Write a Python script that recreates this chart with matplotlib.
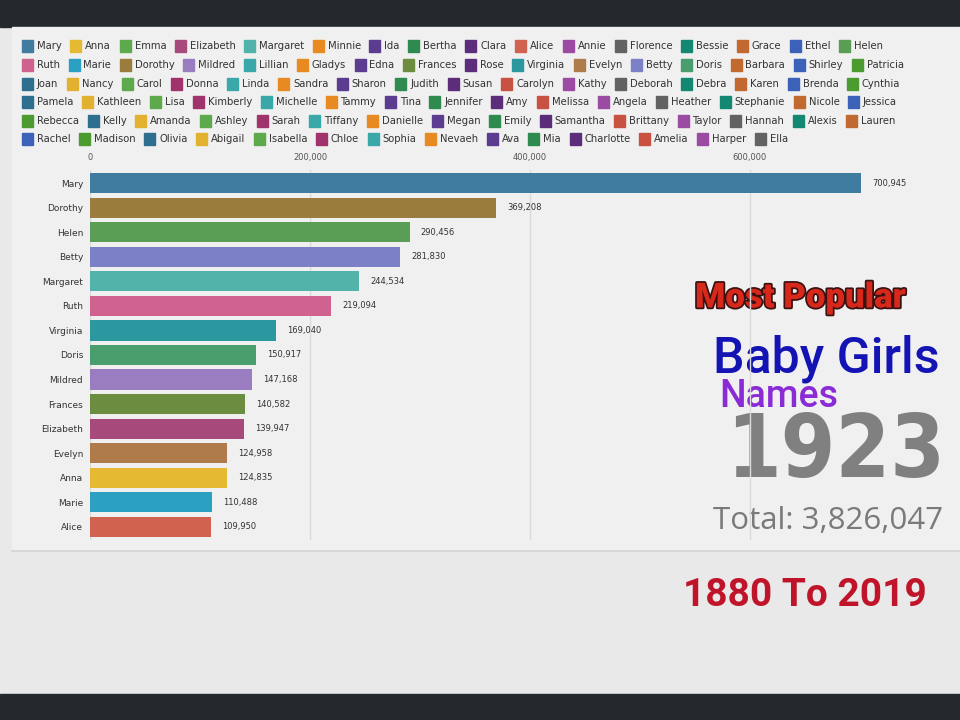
import matplotlib
matplotlib.use("Agg")
import matplotlib.pyplot as plt
import matplotlib.patheffects as pe
from matplotlib.patches import Rectangle
from matplotlib.lines import Line2D
import numpy as np

# Bar data (1923 frame)
names = ['Mary', 'Dorothy', 'Helen', 'Betty', 'Margaret', 'Ruth', 'Virginia', 'Doris',
         'Mildred', 'Frances', 'Elizabeth', 'Evelyn', 'Anna', 'Marie', 'Alice']
values = [700945, 369208, 290456, 281830, 244534, 219094, 169040, 150917,
          147168, 140582, 139947, 124958, 124835, 110488, 109950]
bar_colors = ['#3f7c9f', '#9a7d3c', '#5a9e55', '#7c80c6', '#52b3ab', '#cf628e', '#2b98a0', '#4a9d6c',
              '#9a7cc0', '#6c8d40', '#a8497b', '#b07b4a', '#e6b932', '#2ba0c2', '#d0624f']
ticks = [0, 200000, 400000, 600000]

year = '1923'
total = 'Total: 3,826,047'

# Legend rows
legend_rows = [
    ['Mary', 'Anna', 'Emma', 'Elizabeth', 'Margaret', 'Minnie', 'Ida', 'Bertha', 'Clara', 'Alice',
     'Annie', 'Florence', 'Bessie', 'Grace', 'Ethel', 'Helen'],
    ['Ruth', 'Marie', 'Dorothy', 'Mildred', 'Lillian', 'Gladys', 'Edna', 'Frances', 'Rose', 'Virginia',
     'Evelyn', 'Betty', 'Doris', 'Barbara', 'Shirley', 'Patricia'],
    ['Joan', 'Nancy', 'Carol', 'Donna', 'Linda', 'Sandra', 'Sharon', 'Judith', 'Susan', 'Carolyn',
     'Kathy', 'Deborah', 'Debra', 'Karen', 'Brenda', 'Cynthia'],
    ['Pamela', 'Kathleen', 'Lisa', 'Kimberly', 'Michelle', 'Tammy', 'Tina', 'Jennifer', 'Amy',
     'Melissa', 'Angela', 'Heather', 'Stephanie', 'Nicole', 'Jessica'],
    ['Rebecca', 'Kelly', 'Amanda', 'Ashley', 'Sarah', 'Tiffany', 'Danielle', 'Megan', 'Emily',
     'Samantha', 'Brittany', 'Taylor', 'Hannah', 'Alexis', 'Lauren'],
    ['Rachel', 'Madison', 'Olivia', 'Abigail', 'Isabella', 'Chloe', 'Sophia', 'Nevaeh', 'Ava', 'Mia',
     'Charlotte', 'Amelia', 'Harper', 'Ella'],
]
palette = ['#2e6f8f', '#e2b130', '#5caa4c', '#a0336c', '#3aa8a8', '#e88a22', '#5a3d91', '#2f8a4f',
           '#5b2d7b', '#c95141', '#9b4ba1', '#626262', '#128871', '#c1692f', '#3b61b8', '#4b9b31']
name_color = dict(zip(names, bar_colors))

W, H = 960, 720
fig = plt.figure(figsize=(9.6, 7.2), dpi=100, facecolor='#e9e9e9')

def fx(px):
    return px / W

def fy(py):
    return 1 - py / H

# frame: dark bars top/bottom, light panel
fig.patches.append(Rectangle((0, fy(27)), 1, 27 / H, transform=fig.transFigure, color='#25282c', zorder=0))
fig.patches.append(Rectangle((0, 0), 1, 26 / H, transform=fig.transFigure, color='#25282c', zorder=0))
fig.patches.append(Rectangle((fx(12), fy(550)), 1, (550 - 27) / H, transform=fig.transFigure,
                             color='#f0f0f0', zorder=0))
fig.lines.append(Line2D([fx(12), 1], [fy(551), fy(551)], transform=fig.transFigure,
                        color='#d4d4d4', lw=1.2))

# legend
renderer = fig.canvas.get_renderer()
row_y = [46, 65, 84, 102, 121, 139]
k = 0
for r, row in enumerate(legend_rows):
    x = 22
    for nm in row:
        col = name_color.get(nm, palette[k % len(palette)])
        k += 1
        fig.patches.append(Rectangle((fx(x), fy(row_y[r] + 6)), 11 / W, 12 / H,
                                     transform=fig.transFigure, color=col, zorder=2))
        t = fig.text(fx(x + 15), fy(row_y[r]), nm, fontsize=7.2, color='#333333',
                     va='center', ha='left')
        w = t.get_window_extent(renderer).width
        x += 15 + w + 8.5

# bar chart
ax = fig.add_axes([fx(90), fy(540), fx(858), (540 - 170) / H])
ax.set_zorder(5)
ax.set_facecolor('none')
y = np.arange(len(names))
ax.barh(y, values, height=0.82, color=bar_colors, zorder=2)
ax.set_ylim(14.53, -0.53)
ax.set_xlim(0, 780000)
ax.xaxis.tick_top()
ax.set_xticks(ticks)
ax.set_xticklabels([f'{t:,}' for t in ticks], fontsize=6, color='#555555')
ax.tick_params(axis='x', length=0, pad=6)
ax.set_yticks(y)
ax.set_yticklabels(names, fontsize=6.5, color='#333333')
ax.tick_params(axis='y', length=0, pad=5)
ax.grid(axis='x', color='#dadada', lw=1, zorder=0)
for s in ax.spines.values():
    s.set_visible(False)
for i, v in enumerate(values):
    ax.annotate(f'{v:,}', (v, i), xytext=(8, 0), textcoords='offset points',
                va='center', ha='left', fontsize=6, color='#333333')

# titles on the right
fig.text(fx(695), fy(298), 'Most Popular', fontsize=25, fontweight='heavy', color='#d8281c',
         family=['Roboto', 'DejaVu Sans'], va='center', ha='left',
         path_effects=[pe.withStroke(linewidth=2.5, foreground='#3a1212')])
fig.text(fx(713), fy(359), 'Baby Girls', fontsize=36, fontweight='medium', color='#1414b4',
         family=['Roboto', 'DejaVu Sans'], va='center', ha='left')
fig.text(fx(719), fy(396), 'Names', fontsize=27, fontweight='medium', color='#8a2bd6',
         family=['Roboto', 'DejaVu Sans'], va='center', ha='left')
fig.text(fx(726), fy(453), year, fontsize=63, fontweight='bold', stretch='condensed', color='#808080',
         family=['DejaVu Sans'], va='center', ha='left')
fig.text(fx(713), fy(521), total, fontsize=22.5, color='#7a7a7a',
         family=['Open Sans', 'DejaVu Sans'], va='center', ha='left')
fig.text(fx(683), fy(595), '1880 To 2019', fontsize=28, fontweight='bold', color='#c0142a',
         family=['Roboto', 'DejaVu Sans'], va='center', ha='left')

fig.savefig('out.png', dpi=100, facecolor=fig.get_facecolor())
